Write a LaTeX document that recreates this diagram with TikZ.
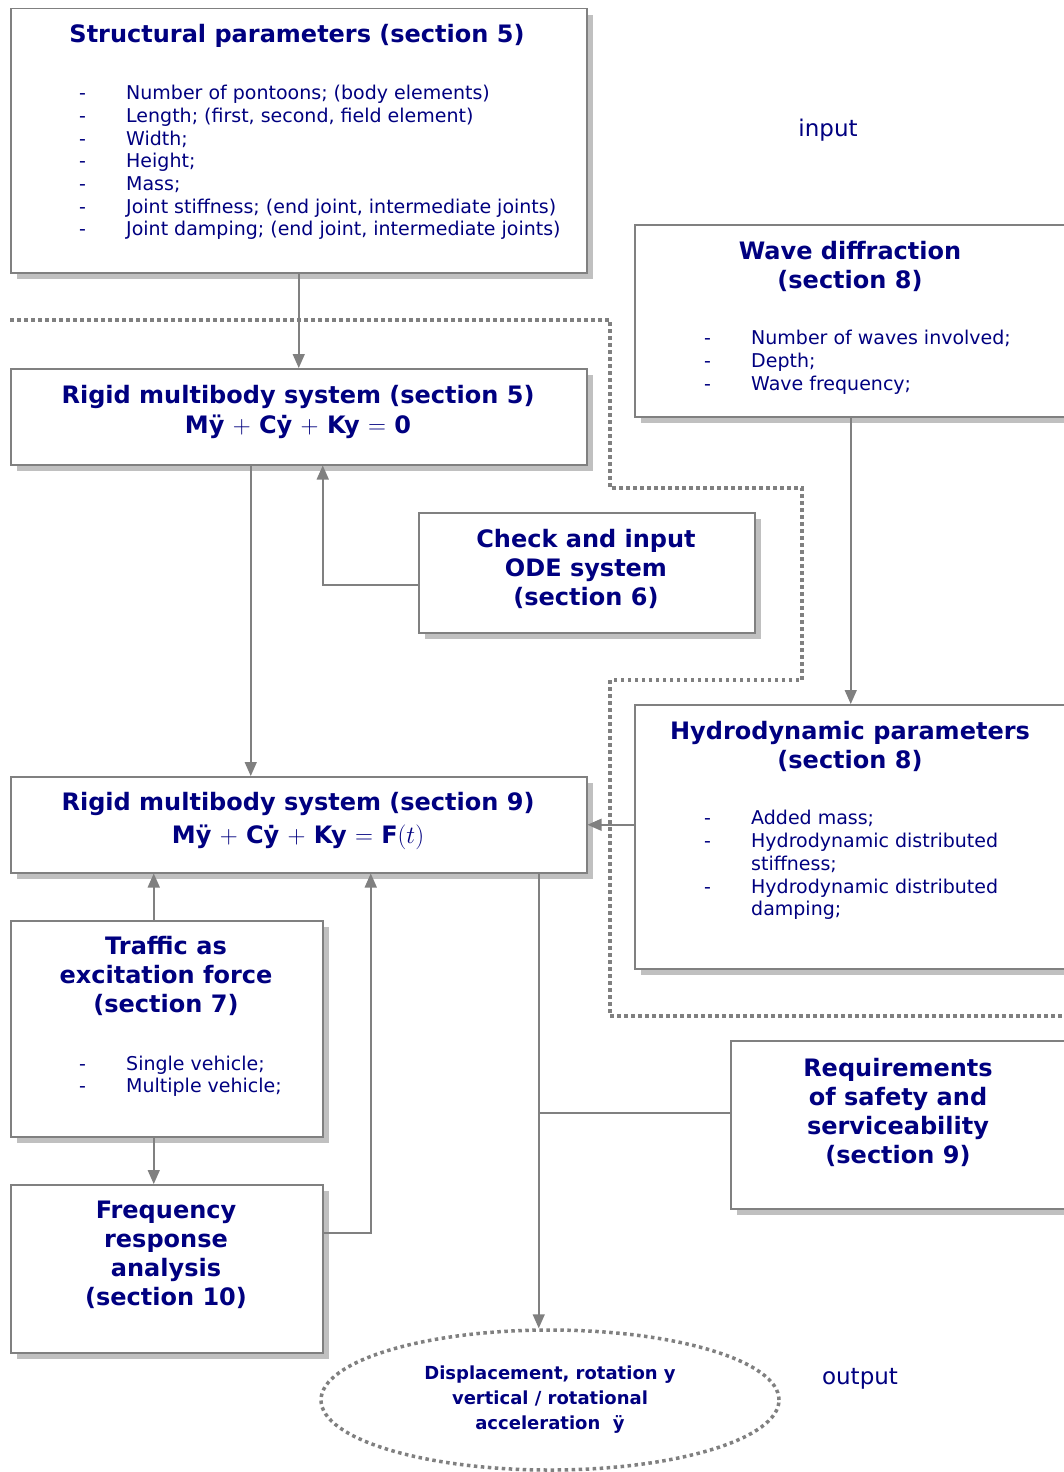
\documentclass[tikz,border=0pt]{standalone}
\usepackage{fontspec}
\setmainfont{DejaVu Sans}
\usetikzlibrary{arrows.meta, shapes.geometric, shadows}
\definecolor{Navy}{HTML}{000080}
\definecolor{LineGray}{HTML}{808080}
\definecolor{ShadowGray}{HTML}{C0C0C0}

\tikzset{
  box/.style={draw=LineGray, line width=1.5pt, fill=white, anchor=north west, inner sep=0pt,
    drop shadow={shadow xshift=6pt, shadow yshift=-6pt, fill=ShadowGray, opacity=1}},
  boxtitle/.style={text=Navy, font=\fontsize{24}{29}\selectfont\bfseries, align=center, inner sep=0pt},
  item/.style={text=Navy, font=\fontsize{19}{23}\selectfont, inner sep=0pt, anchor=mid west},
  sidetext/.style={text=Navy, font=\fontsize{23}{28}\selectfont, inner sep=0pt},
  link/.style={draw=LineGray, line width=1.5pt},
  arr/.style={link, -{Triangle[length=14pt, width=12pt]}},
  fence/.style={draw=LineGray, line width=3.5pt, dash pattern=on 3.5pt off 3.5pt},
  result/.style={ellipse, fence, minimum width=458pt, minimum height=140pt, inner sep=0pt,
    text=Navy, font=\fontsize{18}{25}\selectfont\bfseries, align=center}
}

\begin{document}
\begin{tikzpicture}[x=1pt, y=-1pt]
  \path[use as bounding box, fill=white] (0,0) rectangle (1064,1472);

  % dotted border between input and model
  \draw[fence] (10,320) -- (610,320) -- (610,488) -- (802,488) -- (802,680)
    -- (610,680) -- (610,1016) -- (1064,1016);

  % Structural parameters
  \node[box, minimum width=576pt, minimum height=264pt] (struct) at (10,8) {};
  \node[boxtitle, anchor=north] (struct-t) at (297,24) {Structural parameters (section 5)};
  \foreach \txt [count=\i] in {{Number of pontoons; (body elements)}, {Length; (first, second, field element)},
      Width;, Height;, Mass;, {Joint stiffness; (end joint, intermediate joints)},
      {Joint damping; (end joint, intermediate joints)}} {
    \node[item] (struct-d\i) at (79,{97+22.7*(\i-1)}) {-};
    \node[item] (struct-\i) at (126,{97+22.7*(\i-1)}) {\txt};
  }

  % Wave diffraction
  \node[box, minimum width=432pt, minimum height=192pt] (wave) at (634,224) {};
  \node[boxtitle, anchor=north] (wave-t) at (850,241) {Wave diffraction\\(section 8)};
  \foreach \txt [count=\i] in {Number of waves involved;, Depth;, Wave frequency;} {
    \node[item] (wave-d\i) at (704,{342+23*(\i-1)}) {-};
    \node[item] (wave-\i) at (751,{342+23*(\i-1)}) {\txt};
  }

  % Rigid multibody system, free vibration
  \node[box, minimum width=576pt, minimum height=96pt] (rigid5) at (10,368) {};
  \node[boxtitle, anchor=north] (rigid5-t) at (298,385) {Rigid multibody system (section 5)};
  \node[boxtitle] (rigid5-eq) at (298,427) {Mÿ $+$ Cẏ $+$ Ky $=$ 0};

  % Check and input
  \node[box, minimum width=336pt, minimum height=120pt] (check) at (418,512) {};
  \node[boxtitle, anchor=north] (check-t) at (586,529) {Check and input\\ODE system\\(section 6)};

  % Hydrodynamic parameters
  \node[box, minimum width=432pt, minimum height=264pt] (hydro) at (634,704) {};
  \node[boxtitle, anchor=north] (hydro-t) at (850,721) {Hydrodynamic parameters\\(section 8)};
  \foreach \txt [count=\i] in {Added mass;, Hydrodynamic distributed, stiffness;,
      Hydrodynamic distributed, damping;} {
    \node[item] (hydro-\i) at (751,{822+22.8*(\i-1)}) {\txt};
  }
  \foreach \j in {1,2,4} {
    \node[item] (hydro-d\j) at (704,{822+22.8*(\j-1)}) {-};
  }

  % Rigid multibody system, forced vibration
  \node[box, minimum width=576pt, minimum height=96pt] (rigid9) at (10,776) {};
  \node[boxtitle, anchor=north] (rigid9-t) at (298,792) {Rigid multibody system (section 9)};
  \node[boxtitle] (rigid9-eq) at (298,837) {Mÿ $+$ Cẏ $+$ Ky $=$ F$\Bigl(t\Bigr)$};

  % Traffic
  \node[box, minimum width=312pt, minimum height=216pt] (traffic) at (10,920) {};
  \node[boxtitle, anchor=north] (traffic-t) at (166,936) {Traffic as\\excitation force\\(section 7)};
  \foreach \txt [count=\i] in {Single vehicle;, Multiple vehicle;} {
    \node[item] (traffic-d\i) at (79,{1068+21.5*(\i-1)}) {-};
    \node[item] (traffic-\i) at (126,{1068+21.5*(\i-1)}) {\txt};
  }

  % Frequency response
  \node[box, minimum width=312pt, minimum height=168pt] (freq) at (10,1184) {};
  \node[boxtitle, anchor=north] (freq-t) at (166,1201) {Frequency\\response\\analysis\\(section 10)};

  % Requirements
  \node[box, minimum width=336pt, minimum height=168pt] (require) at (730,1040) {};
  \node[boxtitle, anchor=north] (require-t) at (898,1058) {Requirements\\of safety and\\serviceability\\(section 9)};

  % Output
  \node[result] (result) at (550,1400) {Displacement, rotation y\\vertical / rotational\\acceleration\ \ ÿ};

  \node[sidetext] (in-lbl) at (828,130) {input};
  \node[sidetext] (out-lbl) at (860,1379) {output};

  % connectors
  \draw[arr] (struct.south) -- (rigid5.north);
  \draw[arr] ([xshift=-48pt]rigid5.south) -- ([xshift=-48pt]rigid9.north);
  \draw[arr] ([yshift=-12pt]check.west) -| ([xshift=24pt]rigid5.south);
  \draw[arr] (wave.south) -- (hydro.north);
  \draw[arr] (hydro.west |- rigid9.east) -- (rigid9.east);
  \coordinate (trf-up) at ([xshift=-13pt]traffic.north);
  \draw[arr] (trf-up) -- (trf-up |- rigid9.south);
  \draw[arr] ([xshift=-13pt]traffic.south) -- ([xshift=-13pt]freq.north);
  \draw[arr] ([yshift=36pt]freq.east) -| ([xshift=72pt]rigid9.south);
  \coordinate (spine) at ([xshift=240pt]rigid9.south);
  \draw[arr] (spine) -- (spine |- result.north);
  \coordinate (req-in) at ([yshift=12pt]require.west);
  \draw[link] (req-in) -- (req-in -| spine);
\end{tikzpicture}
\end{document}
